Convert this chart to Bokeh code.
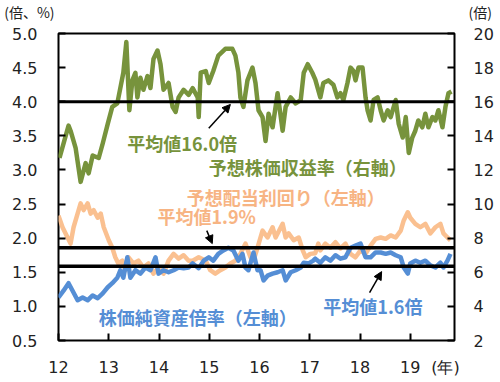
from bokeh.plotting import figure
from bokeh.models import (Range1d, LinearAxis, FixedTicker, Span, Label, Arrow,
                          NormalHead, NumeralTickFormatter)
from bokeh.embed import file_html
from bokeh.resources import INLINE

# ---- data (decimal year, value) ----
per_t = [12.02,12.20,12.24,12.34,12.44,12.54,12.60,12.68,12.80,12.88,12.98,13.07,13.17,13.23,13.29,13.35,
         13.41,13.47,13.53,13.57,13.63,13.69,13.77,13.83,13.89,13.97,14.03,14.09,14.19,14.27,14.33,14.39,
         14.49,14.59,14.67,14.77,14.79,14.83,14.93,14.99,15.08,15.18,15.32,15.46,15.52,15.58,15.62,15.68,
         15.76,15.86,15.92,15.98,16.06,16.12,16.18,16.26,16.36,16.46,16.52,16.62,16.72,16.82,16.88,16.96,
         17.05,17.11,17.21,17.27,17.37,17.47,17.55,17.61,17.67,17.75,17.81,17.87,17.91,17.97,18.05,18.11,
         18.15,18.21,18.27,18.35,18.41,18.47,18.55,18.61,18.71,18.77,18.85,18.91,18.97,19.04,19.10,19.16,
         19.24,19.30,19.36,19.44,19.50,19.56,19.64,19.70,19.76,19.82]
per_v = [12.7,14.6,14.3,13.3,11.3,12.4,11.8,12.85,12.7,13.55,14.7,15.7,15.9,16.8,17.7,19.5,
         15.5,17.25,17.7,16.25,17.4,16.7,17.5,16.8,18.5,19.0,18.2,16.7,17.1,15.7,15.4,16.25,
         16.7,16.4,16.8,16.25,15.1,17.7,17.8,17.1,17.8,18.7,19.1,19.1,18.7,17.7,16.25,15.7,
         17.25,18.0,17.1,15.5,15.1,13.7,15.3,14.5,16.5,14.3,15.7,16.25,15.9,16.1,17.7,18.2,
         17.7,17.3,16.25,17.1,17.25,17.0,16.25,16.5,16.1,17.1,18.0,17.8,17.25,18.0,18.0,16.25,
         15.5,14.9,16.1,16.25,15.5,14.9,15.5,15.1,16.1,14.7,13.9,15.1,13.0,13.9,14.3,14.9,
         14.5,15.3,14.5,15.1,14.9,15.5,14.5,15.7,16.5,16.6]

dy_t = [12.00,12.08,12.18,12.24,12.30,12.38,12.44,12.50,12.58,12.64,12.70,12.78,12.84,12.90,13.00,13.07,
        13.13,13.19,13.27,13.33,13.39,13.49,13.59,13.69,13.79,13.89,13.99,14.09,14.19,14.29,14.39,14.49,
        14.59,14.67,14.79,14.93,15.02,15.12,15.22,15.32,15.42,15.52,15.62,15.72,15.82,15.88,15.96,16.06,
        16.16,16.26,16.32,16.46,16.52,16.58,16.68,16.78,16.86,16.92,17.01,17.11,17.17,17.21,17.31,17.41,
        17.51,17.61,17.71,17.81,17.91,18.01,18.11,18.21,18.31,18.41,18.51,18.61,18.71,18.81,18.87,18.95,
        19.00,19.10,19.20,19.30,19.40,19.50,19.60,19.66,19.74,19.80]
dy_v = [2.33,2.16,2.01,1.92,2.16,2.36,2.51,2.41,2.51,2.36,2.41,2.30,2.36,2.16,1.97,1.86,
        1.72,1.63,1.67,1.53,1.72,1.63,1.67,1.57,1.63,1.48,1.57,1.48,1.67,1.77,1.70,1.75,
        1.67,1.67,1.72,1.67,1.53,1.48,1.53,1.57,1.63,1.67,1.77,1.92,1.72,1.67,1.86,2.11,
        2.01,2.16,2.01,2.21,2.01,2.07,1.97,2.01,1.82,1.72,1.77,1.78,1.92,1.82,1.92,1.86,
        1.94,1.85,1.92,1.77,1.72,1.82,1.77,1.89,1.99,2.01,1.99,2.04,2.01,2.11,2.26,2.38,
        2.30,2.21,2.16,2.21,2.07,2.16,2.21,2.07,2.01,1.97]

pbr_t = [12.00,12.10,12.20,12.28,12.38,12.48,12.58,12.68,12.78,12.88,12.98,13.07,13.17,13.23,13.29,13.37,
         13.43,13.53,13.63,13.73,13.83,13.93,13.99,14.09,14.19,14.29,14.39,14.49,14.59,14.67,14.79,14.89,
         14.99,15.08,15.18,15.28,15.38,15.48,15.58,15.66,15.72,15.78,15.88,15.96,16.02,16.08,16.16,16.26,
         16.36,16.46,16.52,16.62,16.72,16.82,16.88,16.98,17.07,17.11,17.21,17.31,17.41,17.51,17.61,17.71,
         17.81,17.91,18.01,18.11,18.21,18.31,18.41,18.51,18.61,18.71,18.81,18.87,18.95,19.00,19.10,19.20,
         19.30,19.40,19.50,19.60,19.66,19.74,19.80]
pbr_v = [1.13,1.23,1.34,1.23,1.09,1.13,1.09,1.16,1.12,1.19,1.28,1.34,1.42,1.53,1.42,1.72,
         1.42,1.53,1.48,1.57,1.53,1.72,1.48,1.53,1.50,1.53,1.57,1.56,1.57,1.63,1.56,1.67,
         1.72,1.67,1.77,1.82,1.86,1.82,1.67,1.77,1.57,1.53,1.79,1.53,1.53,1.38,1.45,1.48,
         1.50,1.53,1.38,1.50,1.53,1.57,1.64,1.63,1.67,1.70,1.64,1.72,1.67,1.75,1.70,1.72,
         1.86,1.89,1.92,1.72,1.72,1.79,1.79,1.77,1.79,1.75,1.72,1.57,1.48,1.63,1.67,1.64,
         1.67,1.60,1.57,1.64,1.57,1.67,1.77]

per_mean = 16.0     # right axis
dy_mean = 1.86      # left axis (1.9%)
pbr_mean = 1.59     # left axis (1.6倍)

x_ticks = [12, 13, 14, 15, 16, 17, 18, 19]
x_unit_pos = 19.70
x_unit_label = "(年)"
left_unit = "(倍、%)"
right_unit = "(倍)"
left_ticks = [0.5, 1.0, 1.5, 2.0, 2.5, 3.0, 3.5, 4.0, 4.5, 5.0]
right_ticks = [2, 4, 6, 8, 10, 12, 14, 16, 18, 20]

GREEN = "#77933C"
ORANGE = "#FAC090"
BLUE = "#558ED5"
ORANGE_TXT = "#F7B483"
JP = "Noto Sans CJK JP"
NUM = "DejaVu Sans"
TXT = "#222222"

p = figure(width=500, height=382, output_backend="svg", toolbar_location=None,
           x_range=Range1d(12, 19.88), y_range=Range1d(0.5, 5.0),
           min_border_left=58, min_border_right=46, min_border_top=33, min_border_bottom=42)
p.extra_y_ranges = {"right": Range1d(2, 20)}
p.xgrid.visible = False
p.ygrid.visible = False
p.outline_line_color = "black"
p.outline_line_width = 2
p.outline_line_alpha = 1

# x axis: year labels + unit label as majors (no marks), year ticks as inward minor marks
xa = p.xaxis[0]
xa.ticker = FixedTicker(ticks=x_ticks + [x_unit_pos], minor_ticks=x_ticks)
xa.major_label_overrides = {x_unit_pos: x_unit_label}
xa.axis_line_color = None
xa.major_tick_line_color = None
xa.major_tick_in = 0
xa.major_tick_out = 0
xa.minor_tick_in = 7
xa.minor_tick_out = 0
xa.minor_tick_line_color = "black"
xa.minor_tick_line_width = 2
xa.major_label_text_font = NUM
xa.major_label_text_font_size = "16px"
xa.major_label_text_color = TXT
xa.major_label_standoff = 17

ly = p.yaxis[0]
ly.ticker = FixedTicker(ticks=left_ticks)
ly.formatter = NumeralTickFormatter(format="0.0")
ly.axis_line_color = None
ly.major_tick_in = 7
ly.major_tick_out = 0
ly.minor_tick_line_color = None
ly.major_tick_line_color = "black"
ly.major_tick_line_width = 2
ly.major_label_text_font = NUM
ly.major_label_text_font_size = "16px"
ly.major_label_text_color = TXT
ly.major_label_standoff = 21

ry = LinearAxis(y_range_name="right", ticker=FixedTicker(ticks=right_ticks))
ry.axis_line_color = None
ry.major_tick_in = 7
ry.major_tick_out = 0
ry.minor_tick_line_color = None
ry.major_tick_line_width = 2
ry.major_label_text_font = NUM
ry.major_label_text_font_size = "16px"
ry.major_label_text_color = TXT
ry.major_label_standoff = 19
p.add_layout(ry, "right")

# series
p.line(per_t, per_v, y_range_name="right", line_color=GREEN, line_width=4.5, line_join="round")
p.line(dy_t, dy_v, line_color=ORANGE, line_width=4.5, line_join="round")
p.line(pbr_t, pbr_v, line_color=BLUE, line_width=4.5, line_join="round")

# mean lines
p.add_layout(Span(location=per_mean, dimension="width", y_range_name="right",
                  line_color="black", line_width=3))
p.add_layout(Span(location=dy_mean, dimension="width", line_color="black", line_width=3.5))
p.add_layout(Span(location=pbr_mean, dimension="width", line_color="black", line_width=3.5))

def lab(x, y, text, color, size="18px", bold=True, font=JP, align="left", place=None):
    l = Label(x=x, y=y, text=text, text_color=color, text_font=font,
              text_font_size=size, text_font_style="bold" if bold else "normal",
              text_baseline="middle", text_align=align)
    if place:
        p.add_layout(l, place)
    else:
        p.add_layout(l)

lab(13.37, 3.40, "平均値16.0倍", GREEN)
lab(14.99, 3.04, "予想株価収益率（右軸）", GREEN)
lab(14.55, 2.60, "予想配当利回り（左軸）", ORANGE_TXT)
lab(13.97, 2.33, "平均値1.9%", ORANGE_TXT)
lab(12.80, 0.84, "株価純資産倍率（左軸）", BLUE)
lab(17.27, 1.00, "平均値1.6倍", BLUE)

# axis unit labels above the frame: one label in the top side panel (not clipped)
top_text = left_unit + "\u00a0" * 132 + right_unit
lab(10.92, 5.31, top_text, TXT, size="14px", bold=False, place="above")

def arrow(x0, y0, x1, y1):
    p.add_layout(Arrow(end=NormalHead(size=8, fill_color="black", line_color="black"),
                       x_start=x0, y_start=y0, x_end=x1, y_end=y1,
                       line_color="black", line_width=1.5))

arrow(14.99, 3.61, 15.42, 3.96)
arrow(14.95, 2.11, 15.06, 1.92)
arrow(18.19, 1.20, 18.43, 1.51)

open("out.html", "w").write(file_html(p, INLINE))
